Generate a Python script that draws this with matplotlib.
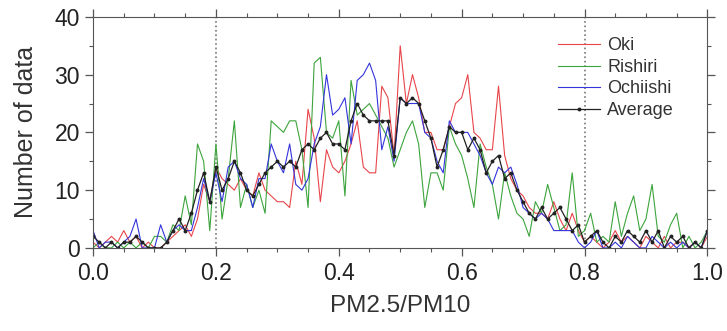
import matplotlib.pyplot as plt
from matplotlib.ticker import MultipleLocator
import numpy as np

plt.rcParams['font.family'] = ['Liberation Sans', 'DejaVu Sans']

ratio = np.round(np.arange(101) * 0.01, 2)

oki = [1, 0, 1, 2, 1, 3, 1, 2, 0, 1,
       0, 0, 1, 2, 3, 4, 2, 5, 11, 8,
       14, 12, 11, 10, 12, 10, 9, 13, 10, 9,
       8, 8, 7, 15, 11, 24, 19, 8, 17, 14,
       13, 15, 18, 22, 14, 13, 13, 28, 26, 16,
       35, 25, 30, 26, 20, 20, 17, 17, 21, 25,
       26, 30, 20, 19, 17, 17, 28, 16, 12, 10,
       9, 7, 6, 6, 5, 8, 5, 3, 6, 3,
       1, 2, 1, 0, 1, 3, 1, 2, 1, 0,
       2, 1, 0, 2, 0, 1, 1, 0, 1, 0, 2]

rishiri = [0, 1, 0, 0, 1, 0, 1, 0, 1, 0,
           2, 2, 1, 4, 3, 9, 4, 18, 15, 3,
           18, 5, 12, 22, 7, 11, 7, 10, 6, 22,
           21, 20, 22, 22, 17, 7, 32, 33, 20, 19,
           22, 9, 29, 23, 24, 25, 23, 21, 19, 14,
           17, 20, 22, 18, 7, 13, 13, 10, 21, 18,
           16, 12, 7, 18, 14, 11, 5, 13, 9, 6,
           5, 2, 8, 6, 11, 7, 3, 4, 13, 2,
           3, 6, 1, 2, 1, 8, 2, 6, 9, 3,
           5, 11, 2, 1, 4, 6, 0, 2, 0, 1, 3]

ochiishi = [3, 0, 1, 1, 0, 1, 2, 5, 0, 0,
            0, 4, 1, 3, 4, 3, 3, 7, 12, 8,
            13, 8, 14, 15, 12, 11, 7, 12, 12, 18,
            15, 13, 18, 11, 10, 12, 18, 21, 30, 23,
            24, 26, 18, 29, 30, 32, 29, 17, 21, 15,
            26, 25, 25, 25, 20, 19, 15, 13, 22, 20,
            20, 20, 18, 16, 13, 11, 14, 13, 14, 11,
            7, 6, 5, 6, 5, 3, 3, 3, 3, 1,
            0, 1, 3, 0, 0, 1, 0, 2, 1, 0,
            0, 2, 1, 0, 1, 0, 1, 0, 1, 0, 3]

average = [2, 1, 0, 1, 0, 1, 1, 2, 1, 0,
           0, 0, 1, 3, 5, 3, 6, 10, 13, 8,
           14, 10, 12, 15, 13, 10, 9, 11, 13, 14,
           15, 14, 15, 14, 17, 18, 17, 19, 20, 18,
           18, 17, 22, 25, 23, 22, 22, 22, 22, 16,
           26, 25, 26, 25, 22, 19, 14, 17, 21, 20,
           20, 17, 19, 17, 13, 15, 16, 12, 13, 10,
           8, 6, 5, 7, 5, 6, 7, 5, 3, 4,
           1, 2, 3, 1, 0, 2, 1, 3, 2, 1,
           3, 1, 3, 0, 2, 1, 2, 0, 1, 0, 3]

fig = plt.figure(figsize=(7.27, 3.31), dpi=100)
ax = fig.add_axes([0.128, 0.251, 0.845, 0.698])

for xv in (0.2, 0.8):
    ax.axvline(xv, color='#777777', ls=':', lw=1.2, zorder=1)

ax.plot(ratio, oki, color='#e8454a', lw=0.8, label='Oki')
ax.plot(ratio, rishiri, color='#3ca43c', lw=0.8, label='Rishiri')
ax.plot(ratio, ochiishi, color='#3434dc', lw=0.8, label='Ochiishi')
ax.plot(ratio, average, color='#222222', lw=0.9, marker='o', ms=1.8,
        label='Average')

ax.set_xlim(0, 1)
ax.set_ylim(0, 40)
ax.xaxis.set_major_locator(MultipleLocator(0.2))
ax.xaxis.set_minor_locator(MultipleLocator(0.05))
ax.yaxis.set_major_locator(MultipleLocator(10))
ax.yaxis.set_minor_locator(MultipleLocator(5))
ax.xaxis.set_major_formatter(lambda v, p: f'{v:.1f}')
ax.tick_params(which='both', direction='out', top=True, right=True,
               labelsize=16.5, color='#555555', labelcolor='#222222')
ax.tick_params(which='major', length=6, width=0.9)
ax.tick_params(which='minor', length=3, width=0.8)
ax.tick_params(axis='x', pad=4)
ax.tick_params(axis='y', pad=3.5)
for s in ax.spines.values():
    s.set_color('#555555')

ax.set_xlabel('PM2.5/PM10', fontsize=17.5, color='#333333', labelpad=7)
ax.set_ylabel('Number of data', fontsize=18, color='#333333', labelpad=12)

ax.legend(loc='upper right', frameon=False, fontsize=13,
          handlelength=2.3, handletextpad=0.4, labelspacing=0.25,
          borderpad=0, bbox_to_anchor=(0.96, 0.95), labelcolor='#333333')

fig.savefig('out.png', dpi=100)
